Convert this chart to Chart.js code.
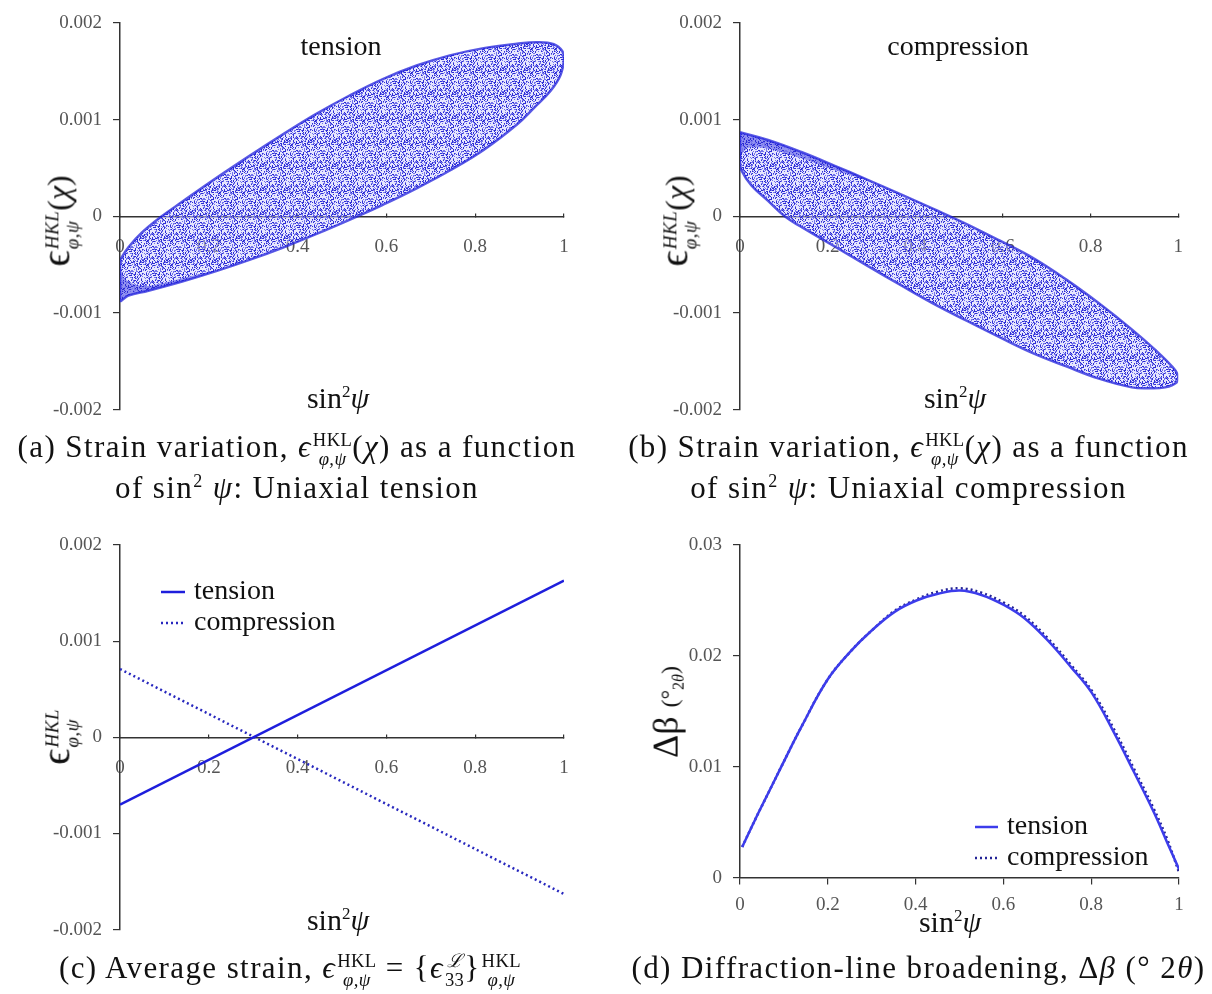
<!DOCTYPE html>
<html>
<head>
<meta charset="utf-8">
<script src="https://cdn.jsdelivr.net/npm/chart.js@4.4.0/dist/chart.umd.min.js"></script>
<style>
  body { margin: 0; background: #fff; }
  #fig { position: relative; width: 1212px; height: 994px; font-family: "Liberation Serif", serif; color: #111; }
  canvas { position: absolute; }
  .lbl { position: absolute; transform: translate(-50%, -50%); white-space: nowrap; }
  .ytitle { position: absolute; transform: translate(-50%, -50%) rotate(-90deg); white-space: nowrap; }
  .cap { position: absolute; text-align: center; font-size: 31px; letter-spacing: 1.4px; line-height: 41px; white-space: nowrap; }
  .st { display: inline-flex; flex-direction: column; vertical-align: middle; font-size: 0.6em; line-height: 1.02; margin-left: 1px; letter-spacing: 0.4px; }
  .cap .st { margin-top: -12px; margin-bottom: -12px; }
  .big { font-size: 1.25em; }
</style>
</head>
<body>
<div id="fig">
  <canvas id="cA" width="600" height="432" style="left:0;top:0"></canvas>
  <canvas id="cB" width="600" height="432" style="left:606px;top:0"></canvas>
  <canvas id="cC" width="600" height="432" style="left:0;top:520px"></canvas>
  <canvas id="cD" width="600" height="432" style="left:606px;top:520px"></canvas>

  <div class="lbl" style="left:341px;top:46px;font-size:28px">tension</div>
  <div class="lbl" style="left:958px;top:46px;font-size:28px">compression</div>

  <div class="lbl" style="left:338px;top:398px;font-size:30px">sin<sup style="font-size:17px">2</sup><i>ψ</i></div>
  <div class="lbl" style="left:955px;top:398px;font-size:30px">sin<sup style="font-size:17px">2</sup><i>ψ</i></div>
  <div class="lbl" style="left:338px;top:920px;font-size:30px">sin<sup style="font-size:17px">2</sup><i>ψ</i></div>
  <div class="lbl" style="left:950px;top:922px;font-size:30px">sin<sup style="font-size:17px">2</sup><i>ψ</i></div>

  <div class="ytitle" style="left:57px;top:221px;font-size:32px"><span class="big">ϵ</span><span class="st"><i>HKL</i><i>φ,ψ</i></span>(<i>χ</i>)</div>
  <div class="ytitle" style="left:675px;top:221px;font-size:32px"><span class="big">ϵ</span><span class="st"><i>HKL</i><i>φ,ψ</i></span>(<i>χ</i>)</div>
  <div class="ytitle" style="left:57px;top:737px;font-size:32px"><span class="big">ϵ</span><span class="st"><i>HKL</i><i>φ,ψ</i></span></div>
  <div class="ytitle" style="left:666px;top:712px;font-size:36px">Δβ <span style="font-size:24px">(°<sub style="font-size:16px">2<i>θ</i></sub>)</span></div>

  <div class="cap" style="left:0;width:594px;top:426px">(a) Strain variation, <i>ϵ</i><span class="st"><span>HKL</span><i>φ,ψ</i></span>(<i>χ</i>) as a function<br>of sin<sup style="font-size:18px;line-height:0">2</sup> <i>ψ</i>: Uniaxial tension</div>
  <div class="cap" style="left:611px;width:595px;top:426px">(b) Strain variation, <i>ϵ</i><span class="st"><span>HKL</span><i>φ,ψ</i></span>(<i>χ</i>) as a function<br>of sin<sup style="font-size:18px;line-height:0">2</sup> <i>ψ</i>: Uniaxial compression</div>
  <div class="cap" style="left:0;width:580px;top:947px">(c) Average strain, <i>ϵ</i><span class="st"><span>HKL</span><i>φ,ψ</i></span> = {<i>ϵ</i><span class="st"><i>ℒ</i><span>33</span></span>}<span class="st"><span>HKL</span><i>φ,ψ</i></span></div>
  <div class="cap" style="left:631px;width:575px;top:947px">(d) Diffraction-line broadening, Δ<i>β</i> (° 2<i>θ</i>)</div>
</div>

<script>
// (a) uniaxial tension: outline of the strain cloud, strain in units of 1e-3
const sinPsiA = [0, 0.019, 0.049, 0.094, 0.14, 0.215, 0.29, 0.366, 0.44, 0.517, 0.592, 0.668, 0.743, 0.819, 0.894, 0.94, 0.977, 0.996, 1.0,
                 0.992, 0.97, 0.932, 0.894, 0.819, 0.743, 0.668, 0.592, 0.54, 0.44, 0.366, 0.29, 0.215, 0.14, 0.064, 0.019, 0, 0];
const strainA = [-0.45, -0.32, -0.17, 0, 0.15, 0.39, 0.62, 0.845, 1.055, 1.25, 1.42, 1.56, 1.665, 1.74, 1.785, 1.80, 1.78, 1.71, 1.63,
                 1.46, 1.30, 1.12, 0.95, 0.687, 0.474, 0.29, 0.119, 0.01, -0.188, -0.325, -0.454, -0.57, -0.675, -0.77, -0.82, -0.87, -0.45];
// dense rim at the lower left of the tension cloud
const rimSinA = [0, 0.008, 0.03, 0.064, 0.14, 0.215, 0.14, 0.064, 0.019, 0, 0];
const rimStrainA = [-0.52, -0.63, -0.70, -0.72, -0.64, -0.56, -0.675, -0.77, -0.82, -0.87, -0.52];

// (b) uniaxial compression
const sinPsiB = [0, 0.064, 0.14, 0.215, 0.29, 0.366, 0.44, 0.517, 0.592, 0.668, 0.743, 0.819, 0.894, 0.947, 0.985, 1.0,
                 0.996, 0.97, 0.932, 0.894, 0.819, 0.743, 0.668, 0.592, 0.517, 0.44, 0.366, 0.29, 0.215, 0.14, 0.102, 0.064, 0.026, 0.004, 0, 0];
const strainB = [0.87, 0.79, 0.665, 0.525, 0.38, 0.23, 0.08, -0.08, -0.25, -0.43, -0.65, -0.90, -1.17, -1.38, -1.55, -1.65,
                 -1.72, -1.77, -1.78, -1.77, -1.68, -1.55, -1.415, -1.25, -1.08, -0.90, -0.71, -0.51, -0.31, -0.11, 0, 0.16, 0.32, 0.47, 0.56, 0.87];
// dense rim along the upper left of the compression cloud
const rimSinB = [0, 0.064, 0.14, 0.215, 0.29, 0.215, 0.14, 0.064, 0.02, 0.004, 0, 0];
const rimStrainB = [0.87, 0.79, 0.665, 0.525, 0.38, 0.48, 0.60, 0.70, 0.71, 0.64, 0.58, 0.87];

// (c) average strain
const sinPsiC = [0, 1];
const avgTension = [-0.70, 1.63];
const avgCompression = [0.71, -1.63];

// (d) line broadening
const sinPsiD = [0.005, 0.035, 0.065, 0.095, 0.141, 0.2, 0.254, 0.3, 0.353, 0.402, 0.451, 0.501,
                 0.55, 0.601, 0.648, 0.701, 0.754, 0.801, 0.852, 0.898, 0.943, 0.973, 1.0];
const broadTension = [0.0028, 0.0053, 0.0077, 0.0101, 0.0137, 0.0179, 0.0205, 0.0223, 0.0240, 0.0250, 0.0256, 0.0259,
                      0.0255, 0.0246, 0.0234, 0.0214, 0.0190, 0.0167, 0.0131, 0.0095, 0.0059, 0.0032, 0.0008];
const broadCompression = [0.0028, 0.0053, 0.0077, 0.0101, 0.0137, 0.0179, 0.0205, 0.0223, 0.0241, 0.0251, 0.0258, 0.0261,
                          0.0257, 0.0248, 0.0236, 0.0216, 0.0192, 0.0169, 0.0134, 0.0098, 0.0062, 0.0035, 0.0005];

const strainTicks = ['-0.002', '-0.001', '0', '0.001', '0.002'];
const sinTicks = ['0', '0.2', '0.4', '0.6', '0.8', '1'];
const broadTicks = ['0', '0.01', '0.02', '0.03'];

const serif = 'Liberation Serif';
const axisCol = '#333';

const pts = (xs, ys, k = 1) => xs.map((x, i) => ({x: x, y: ys[i] * k}));

// speckled blue texture for the point clouds (integer hash per pixel, tiles seamlessly)
function speckle() {
  const n = 24;
  const c = document.createElement('canvas');
  c.width = c.height = n;
  const g = c.getContext('2d');
  g.fillStyle = 'rgba(205,205,252,0.5)';
  g.fillRect(0, 0, n, n);
  for (let y = 0; y < n; y++) {
    for (let x = 0; x < n; x++) {
      let h = Math.imul(x + 1, 73856093) ^ Math.imul(y + 1, 19349663);
      h = Math.imul(h ^ (h >>> 13), 1274126177);
      h = ((h ^ (h >>> 16)) >>> 0) % 100;
      if (h < 20) g.fillStyle = 'rgb(45,45,212)';
      else if (h < 42) g.fillStyle = 'rgb(115,115,236)';
      else continue;
      g.fillRect(x, y, 1, 1);
    }
  }
  return g.createPattern(c, 'repeat');
}

const insetLegend = {
  id: 'insetLegend',
  afterDraw(chart, args, o) {
    const ctx = chart.ctx;
    ctx.save();
    ctx.font = '28px "' + serif + '"';
    ctx.textBaseline = 'middle';
    chart.data.datasets.forEach((ds, i) => {
      const y = o.y + i * o.row;
      ctx.strokeStyle = ds.borderColor;
      ctx.lineWidth = ds.borderWidth;
      ctx.setLineDash(ds.borderDash || []);
      ctx.beginPath();
      ctx.moveTo(o.x, y);
      ctx.lineTo(o.x + o.sample, y);
      ctx.stroke();
      ctx.setLineDash([]);
      ctx.fillStyle = '#111';
      ctx.fillText(ds.label, o.x + o.sample + 9, y);
    });
    ctx.restore();
  }
};

function makeOptions(yAxisW, pad, yMin, yMax, yStep, yLabels, xTickLen, xPad) {
  return {
    responsive: false,
    animation: false,
    layout: {padding: pad},
    plugins: {legend: {display: false}, tooltip: {enabled: false}},
    scales: {
      x: {
        type: 'linear', min: 0, max: 1,
        position: {y: 0},
        border: {color: axisCol, width: 1.5},
        grid: {drawOnChartArea: false, color: axisCol, tickLength: xTickLen, lineWidth: 1.2},
        ticks: {
          stepSize: 0.2, autoSkip: false, padding: xPad, maxRotation: 0,
          color: '#555', font: {family: serif, size: 19},
          callback: (v) => sinTicks[Math.round(v * 5)]
        }
      },
      y: {
        type: 'linear', min: yMin, max: yMax,
        border: {color: axisCol, width: 1.5},
        grid: {drawOnChartArea: false, color: axisCol, tickLength: 7, lineWidth: 1.2},
        ticks: {
          stepSize: yStep, autoSkip: false, padding: 11,
          color: '#555', font: {family: serif, size: 19},
          callback: (v) => yLabels[Math.round((v - yMin) / yStep)]
        },
        afterFit: (s) => { s.width = yAxisW; }
      }
    }
  };
}

const cloud = (data) => ({
  data: data,
  showLine: true,
  fill: 'shape',
  backgroundColor: speckle(),
  borderColor: 'rgba(35,35,220,0.75)',
  borderWidth: 2.5,
  pointRadius: 0,
  tension: 0.4
});

const rim = (data) => ({
  data: data,
  showLine: true,
  fill: 'shape',
  backgroundColor: 'rgba(30,30,220,0.75)',
  borderWidth: 0,
  pointRadius: 0,
  tension: 0.3
});

new Chart(document.getElementById('cA'), {
  type: 'scatter',
  data: {datasets: [cloud(pts(sinPsiA, strainA, 1e-3)), rim(pts(rimSinA, rimStrainA, 1e-3))]},
  options: makeOptions(120, {top: 23, right: 36, bottom: 13, left: 0}, -0.002, 0.002, 0.001, strainTicks, -4, 23)
});

new Chart(document.getElementById('cB'), {
  type: 'scatter',
  data: {datasets: [cloud(pts(sinPsiB, strainB, 1e-3)), rim(pts(rimSinB, rimStrainB, 1e-3))]},
  options: makeOptions(134, {top: 23, right: 27, bottom: 13, left: 0}, -0.002, 0.002, 0.001, strainTicks, -4, 23)
});

const optC = makeOptions(120, {top: 25, right: 36, bottom: 10, left: 0}, -0.002, 0.002, 0.001, strainTicks, -4, 23);
optC.plugins.insetLegend = {x: 161, y: 72, row: 31, sample: 24};
new Chart(document.getElementById('cC'), {
  type: 'scatter',
  plugins: [insetLegend],
  data: {
    datasets: [
      {label: 'tension', data: pts(sinPsiC, avgTension, 1e-3), showLine: true, borderColor: 'rgb(30,30,220)',
       borderWidth: 2.5, pointRadius: 0},
      {label: 'compression', data: pts(sinPsiC, avgCompression, 1e-3), showLine: true, borderColor: 'rgb(40,40,190)',
       borderWidth: 2.5, borderDash: [2, 3], pointRadius: 0}
    ]
  },
  options: optC
});

const optD = makeOptions(134, {top: 25, right: 27, bottom: 74, left: 0}, 0, 0.03, 0.01, broadTicks, 6, 10);
optD.plugins.insetLegend = {x: 369, y: 307, row: 31, sample: 23};
new Chart(document.getElementById('cD'), {
  type: 'scatter',
  plugins: [insetLegend],
  data: {
    datasets: [
      {label: 'tension', data: pts(sinPsiD, broadTension), showLine: true, borderColor: 'rgb(60,60,235)',
       borderWidth: 2.5, pointRadius: 0, tension: 0.4},
      {label: 'compression', data: pts(sinPsiD, broadCompression), showLine: true, borderColor: 'rgb(35,35,150)',
       borderWidth: 2.5, borderDash: [2, 3], pointRadius: 0, tension: 0.4}
    ]
  },
  options: optD
});
</script>
</body>
</html>
